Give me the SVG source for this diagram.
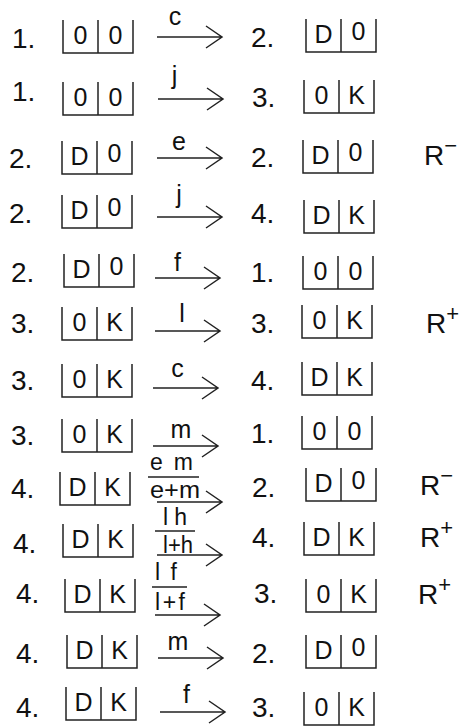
<svg xmlns="http://www.w3.org/2000/svg" xmlns:xlink="http://www.w3.org/1999/xlink" width="461" height="727" viewBox="0 0 461 727">
<style>
.num{font-family:"Liberation Sans",Arial,sans-serif;font-size:28px;fill:#111}
.cell{font-family:"Liberation Sans",Arial,sans-serif;font-size:25px;fill:#111;text-anchor:middle}
.lbl{font-family:"Liberation Sans",Arial,sans-serif;font-size:25px;fill:#111}
.frac{font-size:23px}
.mid{text-anchor:middle}
.r{font-family:"Liberation Sans",Arial,sans-serif;font-size:28px;fill:#111}
.sup{font-size:22px}
.ln{stroke:#222;stroke-width:1.5;fill:none}
</style>
<defs>
<path id="box" class="ln" d="M0,0 V33 H70 V0 M35,0 V33"/>
<path id="arr" class="ln" d="M0,0 H65 M49,-11 L65,0 L49,11"/>
</defs>
<rect width="461" height="727" fill="#fff"/>

<g id="left-states">
<g id="L1"><text class="num" x="12" y="48">1.</text><use xlink:href="#box" x="63" y="20"/><text class="cell" x="80.5" y="44">0</text><text class="cell" x="115.5" y="44">0</text></g>
<g id="L2"><text class="num" x="12" y="101">1.</text><use xlink:href="#box" x="63" y="82"/><text class="cell" x="80.5" y="106">0</text><text class="cell" x="115.5" y="106">0</text></g>
<g id="L3"><text class="num" x="9" y="168">2.</text><use xlink:href="#box" x="62" y="141"/><text class="cell" x="79.5" y="165">D</text><text class="cell" x="114.5" y="162">0</text></g>
<g id="L4"><text class="num" x="9" y="223">2.</text><use xlink:href="#box" x="62" y="195"/><text class="cell" x="79.5" y="219">D</text><text class="cell" x="114.5" y="216">0</text></g>
<g id="L5"><text class="num" x="11" y="282">2.</text><use xlink:href="#box" x="64" y="254"/><text class="cell" x="81.5" y="278">D</text><text class="cell" x="116.5" y="275">0</text></g>
<g id="L6"><text class="num" x="11" y="333">3.</text><use xlink:href="#box" x="62" y="307"/><text class="cell" x="79.5" y="331">0</text><text class="cell" x="114.5" y="331">K</text></g>
<g id="L7"><text class="num" x="11" y="390">3.</text><use xlink:href="#box" x="62" y="364"/><text class="cell" x="79.5" y="388">0</text><text class="cell" x="114.5" y="388">K</text></g>
<g id="L8"><text class="num" x="11" y="445">3.</text><use xlink:href="#box" x="62" y="419"/><text class="cell" x="79.5" y="443">0</text><text class="cell" x="114.5" y="443">K</text></g>
<g id="L9"><text class="num" x="11" y="498">4.</text><use xlink:href="#box" x="60" y="472"/><text class="cell" x="77.5" y="496">D</text><text class="cell" x="112.5" y="496">K</text></g>
<g id="L10"><text class="num" x="13" y="553">4.</text><use xlink:href="#box" x="63" y="524"/><text class="cell" x="80.5" y="548">D</text><text class="cell" x="115.5" y="548">K</text></g>
<g id="L11"><text class="num" x="16" y="603">4.</text><use xlink:href="#box" x="65" y="579"/><text class="cell" x="82.5" y="603">D</text><text class="cell" x="117.5" y="603">K</text></g>
<g id="L12"><text class="num" x="16" y="663">4.</text><use xlink:href="#box" x="67" y="635"/><text class="cell" x="84.5" y="659">D</text><text class="cell" x="119.5" y="659">K</text></g>
<g id="L13"><text class="num" x="16" y="717">4.</text><use xlink:href="#box" x="66" y="687"/><text class="cell" x="83.5" y="711">D</text><text class="cell" x="118.5" y="711">K</text></g>
</g>

<g id="right-states">
<g id="R1"><text class="num" x="251" y="47">2.</text><use xlink:href="#box" x="306" y="19"/><text class="cell" x="323.5" y="43">D</text><text class="cell" x="358.5" y="40">0</text></g>
<g id="R2"><text class="num" x="252" y="107">3.</text><use xlink:href="#box" x="304" y="80"/><text class="cell" x="321.5" y="104">0</text><text class="cell" x="356.5" y="104">K</text></g>
<g id="R3"><text class="num" x="251" y="167">2.</text><use xlink:href="#box" x="303" y="140"/><text class="cell" x="320.5" y="164">D</text><text class="cell" x="355.5" y="161">0</text></g>
<g id="R4"><text class="num" x="251" y="223">4.</text><use xlink:href="#box" x="304" y="200"/><text class="cell" x="321.5" y="224">D</text><text class="cell" x="356.5" y="224">K</text></g>
<g id="R5"><text class="num" x="251" y="282">1.</text><use xlink:href="#box" x="303" y="256"/><text class="cell" x="320.5" y="280">0</text><text class="cell" x="355.5" y="280">0</text></g>
<g id="R6"><text class="num" x="251" y="333">3.</text><use xlink:href="#box" x="302" y="305"/><text class="cell" x="319.5" y="329">0</text><text class="cell" x="354.5" y="329">K</text></g>
<g id="R7"><text class="num" x="251" y="390">4.</text><use xlink:href="#box" x="302" y="362"/><text class="cell" x="319.5" y="386">D</text><text class="cell" x="354.5" y="386">K</text></g>
<g id="R8"><text class="num" x="251" y="443">1.</text><use xlink:href="#box" x="302" y="416"/><text class="cell" x="319.5" y="440">0</text><text class="cell" x="354.5" y="440">0</text></g>
<g id="R9"><text class="num" x="252" y="497">2.</text><use xlink:href="#box" x="306" y="468"/><text class="cell" x="323.5" y="492">D</text><text class="cell" x="358.5" y="489">0</text></g>
<g id="R10"><text class="num" x="252" y="547">4.</text><use xlink:href="#box" x="304" y="522"/><text class="cell" x="321.5" y="546">D</text><text class="cell" x="356.5" y="546">K</text></g>
<g id="R11"><text class="num" x="254" y="603">3.</text><use xlink:href="#box" x="306" y="579"/><text class="cell" x="323.5" y="603">0</text><text class="cell" x="358.5" y="603">K</text></g>
<g id="R12"><text class="num" x="252" y="663">2.</text><use xlink:href="#box" x="306" y="635"/><text class="cell" x="323.5" y="659">D</text><text class="cell" x="358.5" y="656">0</text></g>
<g id="R13"><text class="num" x="252" y="717">3.</text><use xlink:href="#box" x="304" y="692"/><text class="cell" x="321.5" y="716">0</text><text class="cell" x="356.5" y="716">K</text></g>
</g>

<g id="connectors">
<use xlink:href="#arr" x="157" y="37"/>
<use xlink:href="#arr" x="158" y="99"/>
<use xlink:href="#arr" x="157" y="158"/>
<use xlink:href="#arr" x="157" y="217"/>
<use xlink:href="#arr" x="155" y="278"/>
<use xlink:href="#arr" x="155" y="331"/>
<use xlink:href="#arr" x="153" y="388"/>
<use xlink:href="#arr" x="153" y="446"/>
<use xlink:href="#arr" x="157" y="502"/>
<use xlink:href="#arr" x="157" y="555"/>
<use xlink:href="#arr" x="155" y="615"/>
<use xlink:href="#arr" x="158" y="658"/>
<use xlink:href="#arr" x="160" y="712"/>
<path class="ln" d="M148,477 H199 M155,531 H195 M152,587 H187"/>
</g>

<g id="labels">
<text class="lbl mid" x="175" y="25">c</text>
<text class="lbl mid" x="174.5" y="84">j</text>
<text class="lbl mid" x="179" y="150">e</text>
<text class="lbl mid" x="179" y="203">j</text>
<text class="lbl mid" x="177.5" y="271">f</text>
<text class="lbl mid" x="182" y="322">l</text>
<text class="lbl mid" x="177.5" y="377">c</text>
<text class="lbl mid" x="181" y="438">m</text>
<text class="lbl frac" x="150" y="470" textLength="43" lengthAdjust="spacing">e m</text>
<text class="lbl frac" x="150" y="498" textLength="50" lengthAdjust="spacingAndGlyphs">e+m</text>
<text class="lbl frac" x="163" y="525" textLength="24" lengthAdjust="spacing">l h</text>
<text class="lbl frac" x="163" y="553" textLength="30" lengthAdjust="spacingAndGlyphs">l+h</text>
<text class="lbl frac" x="155" y="580" textLength="22" lengthAdjust="spacing">l f</text>
<text class="lbl frac" x="155" y="610" textLength="30" lengthAdjust="spacing">l+f</text>
<text class="lbl mid" x="178" y="650">m</text>
<text class="lbl mid" x="186.5" y="703">f</text>
</g>

<g id="marks">
<text class="r" x="424" y="165">R<tspan class="sup" dy="-12">−</tspan></text>
<text class="r" x="426" y="333">R<tspan class="sup" dy="-12">+</tspan></text>
<text class="r" x="420" y="495">R<tspan class="sup" dy="-12">−</tspan></text>
<text class="r" x="420" y="547">R<tspan class="sup" dy="-12">+</tspan></text>
<text class="r" x="418" y="604">R<tspan class="sup" dy="-12">+</tspan></text>
</g>
</svg>
